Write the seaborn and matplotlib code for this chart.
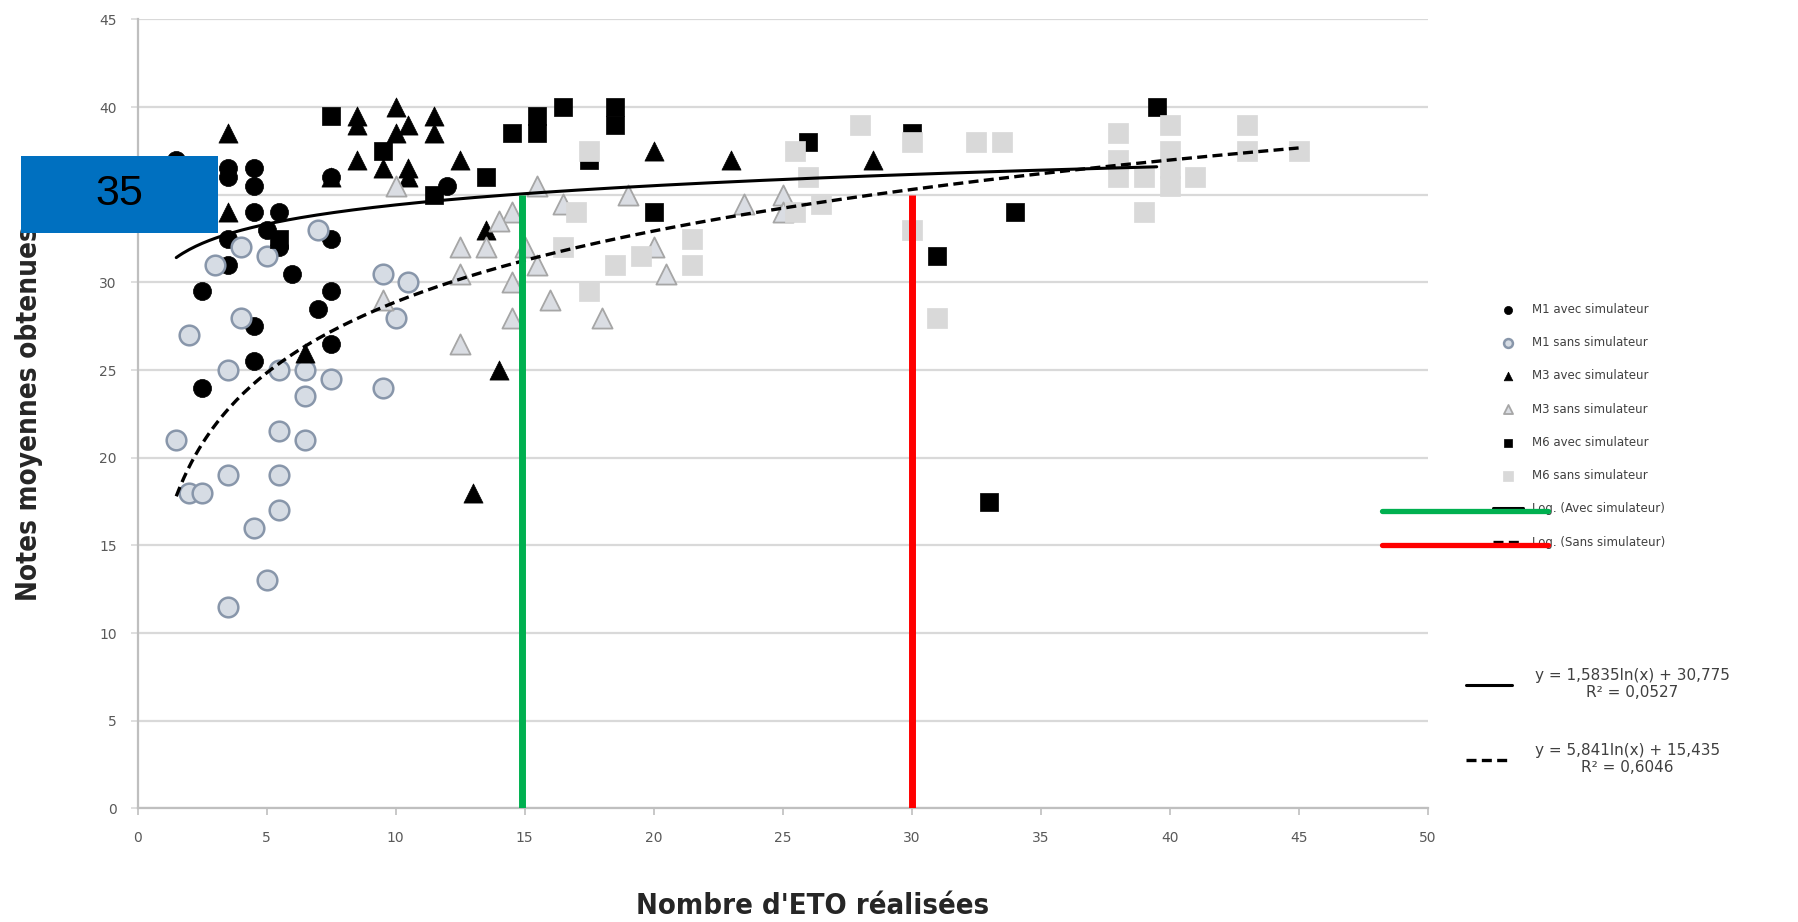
import numpy as np
import matplotlib
matplotlib.use("Agg")
import matplotlib.pyplot as plt
from matplotlib.lines import Line2D
from matplotlib.patches import Rectangle
import seaborn as sns

"""
    Valeurs lues sur le graphique (nombre d'ETO, note moyenne) par série.
"""
m1_avec_x = [1.5, 3.5, 3.5, 3.5, 3.5, 4.5, 4.5, 4.5, 4.5, 4.5, 5, 5.5, 5.5,
             2.5, 2.5, 6, 7, 7.5, 7.5, 7.5, 7.5, 12]
m1_avec_y = [37, 36.5, 36, 32.5, 31, 36.5, 35.5, 34, 27.5, 25.5, 33, 34, 32,
             29.5, 24, 30.5, 28.5, 32.5, 29.5, 26.5, 36, 35.5]

m1_sans_x = [7, 4, 5, 3, 9.5, 10.5, 4, 10, 2, 3.5, 5.5, 6.5, 7.5, 9.5, 6.5,
             1.5, 5.5, 6.5, 2, 2.5, 3.5, 5.5, 5.5, 4.5, 5, 3.5]
m1_sans_y = [33, 32, 31.5, 31, 30.5, 30, 28, 28, 27, 25, 25, 25, 24.5, 24, 23.5,
             21, 21.5, 21, 18, 18, 19, 19, 17, 16, 13, 11.5]

m3_avec_x = [3.5, 3.5, 8.5, 8.5, 10, 10.5, 10, 11.5, 11.5, 8.5, 9.5, 10.5, 10.5,
             12.5, 7.5, 13.5, 6.5, 14, 13, 20, 23, 28.5]
m3_avec_y = [38.5, 34, 39.5, 39, 40, 39, 38.5, 39.5, 38.5, 37, 36.5, 36.5, 36,
             37, 36, 33, 26, 25, 18, 37.5, 37, 37]

m3_sans_x = [10, 9.5, 12.5, 14.5, 15.5, 14.5, 14, 12.5, 13.5, 15, 12.5, 14.5,
             15.5, 16.5, 19, 20, 16, 18, 20.5, 23.5, 25, 25]
m3_sans_y = [35.5, 29, 26.5, 28, 35.5, 34, 33.5, 32, 32, 32, 30.5, 30,
             31, 34.5, 35, 32, 29, 28, 30.5, 34.5, 35, 34]

m6_avec_x = [7.5, 9.5, 13.5, 11.5, 5.5, 14.5, 15.5, 15.5, 16.5, 18.5, 18.5,
             17.5, 20, 26, 30, 39.5, 34, 31, 33]
m6_avec_y = [39.5, 37.5, 36, 35, 32.5, 38.5, 39.5, 38.5, 40, 40, 39,
             37, 34, 38, 38.5, 40, 34, 31.5, 17.5]

m6_sans_x = [17.5, 17, 16.5, 18.5, 19.5, 17.5, 21.5, 21.5, 25.5, 26, 25.5, 26.5,
             28, 30, 30, 31, 32.5, 33.5, 38, 38, 38, 39, 39, 40, 40, 40, 40,
             41, 43, 43, 45]
m6_sans_y = [37.5, 34, 32, 31, 31.5, 29.5, 32.5, 31, 37.5, 36, 34, 34.5,
             39, 38, 33, 28, 38, 38, 38.5, 37, 36, 36, 34, 39, 37.5, 36.5, 35.5,
             36, 39, 37.5, 37.5]

"""
    Courbes de tendance logarithmiques affichées (y = a ln(x) + b).
"""
log_avec = [1.5835, 30.775]
log_sans = [5.841, 15.435]
log_avec_range = [1.5, 39.5]
log_sans_range = [1.5, 45]
eq_avec = "y = 1,5835ln(x) + 30,775\nR² = 0,0527"
eq_sans = "y = 5,841ln(x) + 15,435\nR² = 0,6046"

seuils_x = [14.9, 30]
seuil_y = 35

series = [
    ("M1 avec simulateur", m1_avec_x, m1_avec_y, "o", "black", "black", 170, 0.5),
    ("M1 sans simulateur", m1_sans_x, m1_sans_y, "o", "#D6DCE4", "#8896AA", 200, 1.8),
    ("M3 avec simulateur", m3_avec_x, m3_avec_y, "^", "black", "black", 190, 0.5),
    ("M3 sans simulateur", m3_sans_x, m3_sans_y, "^", "#DADDE3", "#A6A6A6", 210, 1.3),
    ("M6 avec simulateur", m6_avec_x, m6_avec_y, "s", "black", "black", 150, 0.5),
    ("M6 sans simulateur", m6_sans_x, m6_sans_y, "s", "#D9D9D9", "#D9D9D9", 210, 0.5),
]

sns.set_theme(style="white")
plt.rcParams["font.family"] = ["DejaVu Sans"]

fig = plt.figure(figsize=(17.98, 9.22), dpi=100)
ax = fig.add_axes([0.0765, 0.1232, 0.7175, 0.8557])

for nom, xs, ys, mk, face, edge, taille, ep in series:
    sns.scatterplot(x=xs, y=ys, marker=mk, s=taille, color=face, edgecolor=edge,
                    linewidth=ep, label=nom, ax=ax, zorder=3, legend=False)

x_avec = np.linspace(log_avec_range[0], log_avec_range[1], 300)
x_sans = np.linspace(log_sans_range[0], log_sans_range[1], 300)
sns.lineplot(x=x_avec, y=log_avec[0] * np.log(x_avec) + log_avec[1], color="black",
             linewidth=2.2, label="Log. (Avec simulateur)", ax=ax, zorder=4, legend=False)
sns.lineplot(x=x_sans, y=log_sans[0] * np.log(x_sans) + log_sans[1], color="black",
             linewidth=2.4, linestyle=(0, (3, 1.6)), label="Log. (Sans simulateur)",
             ax=ax, zorder=4, legend=False)

ax.vlines(seuils_x, 0, seuil_y, colors=["#00B050", "#FF0000"], linewidth=5, zorder=5)

ax.set_xlim(0, 50)
ax.set_ylim(0, 45)
ax.set_xticks(range(0, 51, 5))
ax.set_yticks(range(0, 46, 5))
ax.yaxis.grid(True, color="#D9D9D9", linewidth=1.6)
ax.xaxis.grid(False)
ax.set_axisbelow(True)
for s in ["top", "right"]:
    ax.spines[s].set_visible(False)
for s in ["left", "bottom"]:
    ax.spines[s].set_color("#BFBFBF")
    ax.spines[s].set_linewidth(1.6)
ax.tick_params(axis="x", length=5, width=1.2, color="#BFBFBF", pad=11,
               labelsize=10, labelcolor="#595959", bottom=True)
ax.tick_params(axis="y", length=5, width=1.2, color="#D9D9D9", pad=10,
               labelsize=10, labelcolor="#595959", left=True)

ax.set_ylabel("Notes moyennes obtenues", fontsize=20, fontweight="bold",
              va="center", fontstretch="condensed")
ax.yaxis.set_label_coords(-0.084, 0.50)
ax.set_xlabel("Nombre d'ETO réalisées", fontsize=21, fontweight="bold",
              va="center", fontstretch="condensed")
ax.xaxis.set_label_coords(0.523, -0.124)

handles, labels = ax.get_legend_handles_labels()
fig.legend(handles, labels, loc="upper left", bbox_to_anchor=(0.8304, 0.6718),
           frameon=False, fontsize=8.5, markerscale=0.45, handlelength=2.5,
           handletextpad=0.8, labelspacing=1.72, borderpad=0, borderaxespad=0,
           labelcolor="#404040")

eq_handles = [Line2D([], [], color="black", linewidth=2.2),
              Line2D([], [], color="black", linewidth=2.4, linestyle=(0, (3, 1.6)))]
leg2 = fig.legend(eq_handles, [eq_avec, eq_sans], loc="upper left",
                  bbox_to_anchor=(0.8154, 0.2758), frameon=False, fontsize=11,
                  handlelength=3.0, handletextpad=1.5, labelspacing=2.8,
                  borderpad=0, borderaxespad=0, labelcolor="#404040")
for t in leg2.get_texts():
    t.set_multialignment("center")

# traits de couleur ajoutés sur la légende
fig.add_artist(Line2D([0.7685, 0.861], [0.4453, 0.4453], color="#00B050", linewidth=3.8, zorder=10))
fig.add_artist(Line2D([0.7685, 0.861], [0.4092, 0.4092], color="#FF0000", linewidth=3.8, zorder=10))

# étiquette bleue "35"
fig.add_artist(Rectangle((0.01146, 0.7475), 0.1097, 0.0833, transform=fig.transFigure,
                         facecolor="#0070C0", edgecolor="none", zorder=10))
fig.text(0.0663, 0.7891, "35", fontsize=31, color="black", ha="center", va="center",
         family="Liberation Sans", zorder=11)

fig.savefig("out.png", dpi=100)
plt.close()
